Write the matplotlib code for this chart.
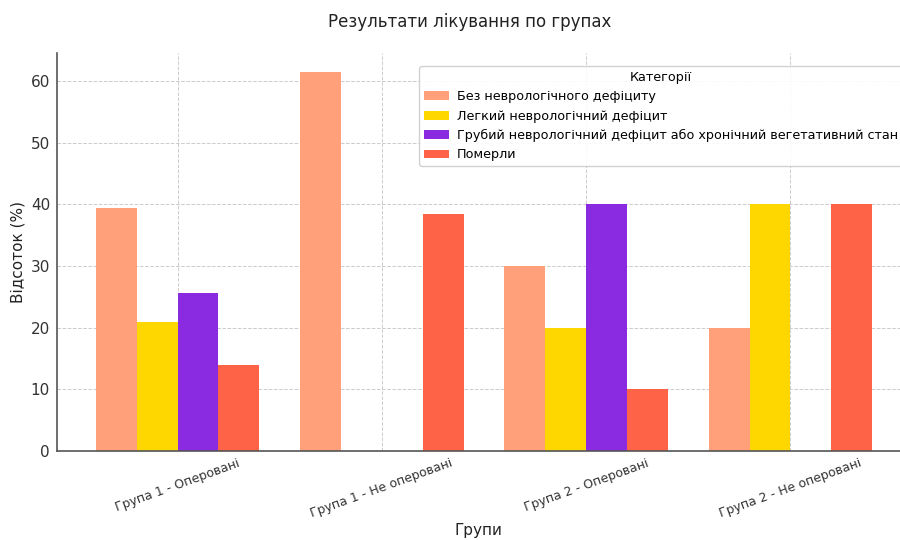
import numpy as np
import matplotlib
matplotlib.use("Agg")
import matplotlib.pyplot as plt

plt.rcParams['font.family'] = ['DejaVu Sans']

groups = ["Група 1 - Оперовані", "Група 1 - Не оперовані", "Група 2 - Оперовані", "Група 2 - Не оперовані"]
categories = ["Без неврологічного дефіциту", "Легкий неврологічний дефіцит",
              "Грубий неврологічний дефіцит або хронічний вегетативний стан", "Померли"]
no_deficit = [39.5, 61.5, 30.0, 20.0]
mild_deficit = [20.9, 0.0, 20.0, 40.0]
severe_deficit = [25.6, 0.0, 40.0, 0.0]
died = [14.0, 38.5, 10.0, 40.0]
series = [no_deficit, mild_deficit, severe_deficit, died]
colors = ["#FFA07A", "#FFD700", "#8A2BE2", "#FF6347"]

fig = plt.figure(figsize=(9, 5.4), dpi=100)
ax = fig.add_axes([57/900, 89/540, 854/900, 398/540])

x = np.arange(len(groups))
width = 0.2
for i, (vals, c, lab) in enumerate(zip(series, colors, categories)):
    ax.bar(x + (i - 1.5) * width, vals, width, color=c, label=lab, zorder=2)

ax.set_xticks(x)
ax.set_xticklabels(groups, rotation=20, ha='center', fontsize=9, color='#333333')
ax.tick_params(axis='y', labelsize=11, colors='#333333', length=0, pad=5)
ax.tick_params(axis='x', length=0, pad=4)
ax.set_xlabel("Групи", fontsize=11, color='#222222', va='center')
ax.xaxis.set_label_coords((478-57)/854, (451-530)/398)
ax.set_ylabel("Відсоток (%)", fontsize=11, color='#222222', labelpad=4)
ax.set_title("Результати лікування по групах", fontsize=12, color='#222222', pad=19, x=(470-57)/854)
ax.grid(True, linestyle='--', color='#cccccc', linewidth=0.7, zorder=0)
ax.set_axisbelow(True)
for s in ['top', 'right']:
    ax.spines[s].set_visible(False)
for s in ['left', 'bottom']:
    ax.spines[s].set_color('#555555')
    ax.spines[s].set_linewidth(1.2)

leg = ax.legend(title="Категорії", loc='upper left', bbox_to_anchor=((413-57)/854, (451-60)/398),
                fontsize=9.2, title_fontsize=9.2, framealpha=0.9, edgecolor='#cccccc',
                handlelength=2.0, handletextpad=0.6, borderpad=0.35, labelspacing=0.5)

fig.savefig("out.png", dpi=100)
